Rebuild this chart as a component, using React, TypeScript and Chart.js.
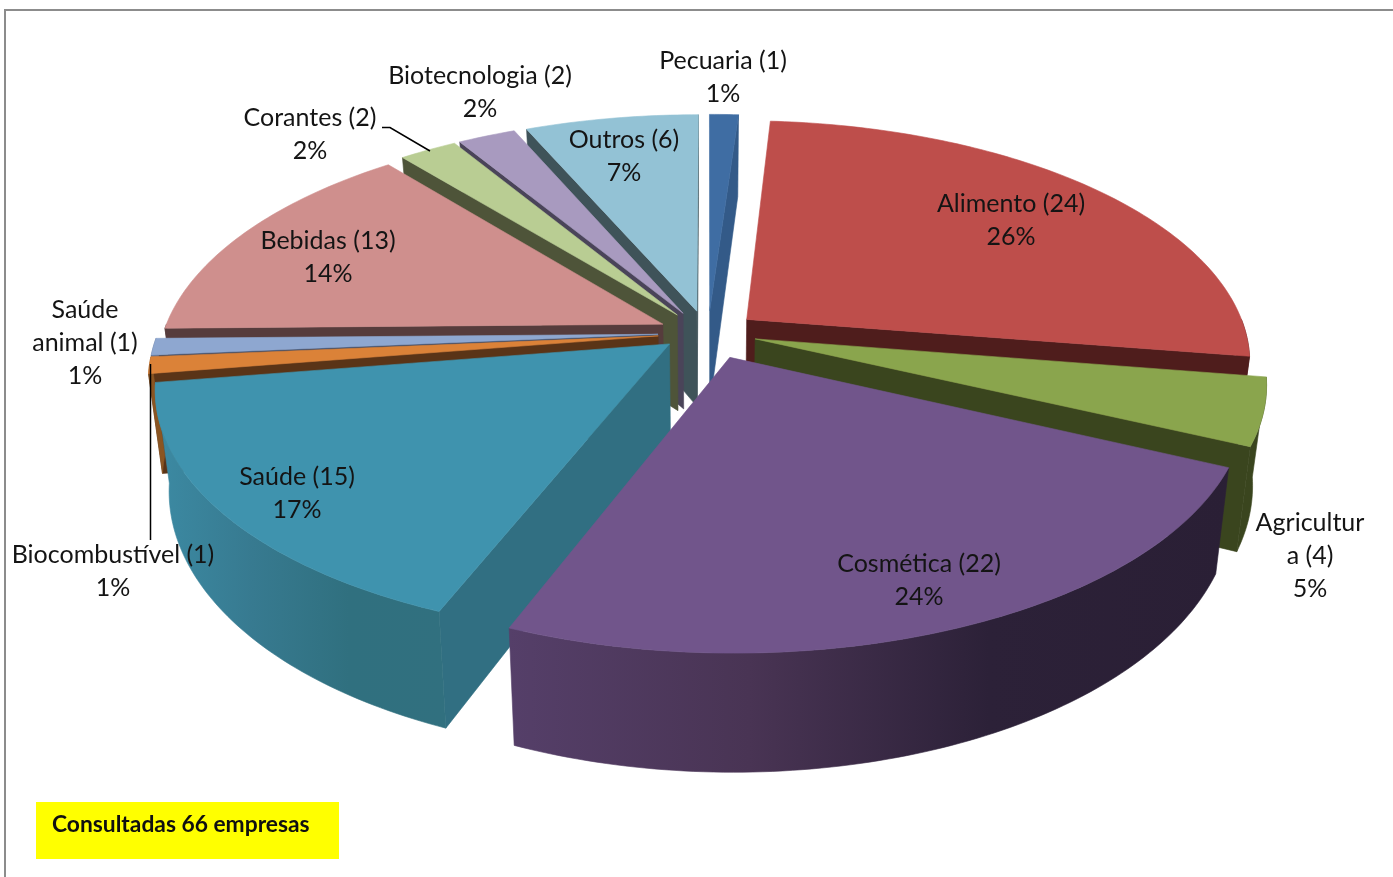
import React, { useEffect, useRef } from "react";
import { Chart, registerables } from "chart.js";

Chart.register(...registerables);

const categories = ["Pecuaria", "Alimento", "Agricultura", "Cosmética", "Saúde", "Biocombustível", "Saúde animal", "Bebidas", "Corantes", "Biotecnologia", "Outros"];
const counts = [1, 24, 4, 22, 15, 1, 1, 13, 2, 2, 6];
const percents = ["1%", "26%", "5%", "24%", "17%", "1%", "1%", "14%", "2%", "2%", "7%"];
const nameLines = [
  ["Pecuaria (1)"],
  ["Alimento (24)"],
  ["Agricultur", "a (4)"],
  ["Cosmética (22)"],
  ["Saúde (15)"],
  ["Biocombustível (1)"],
  ["Saúde", "animal (1)"],
  ["Bebidas (13)"],
  ["Corantes (2)"],
  ["Biotecnologia (2)"],
  ["Outros (6)"],
];
const topColors = ["#3f6da3", "#be4e4b", "#8aa54d", "#71558b", "#3f93ae", "#db8238", "#8ea7d0", "#cf8f8d", "#b9cd93", "#a89abf", "#93c2d5"];
const sideColors = ["#335a88", "#4f1d1c", "#3a451e", "#2f2440", "#316f82", "#5a3417", "#3f4c66", "#563c3c", "#4e5439", "#4a4459", "#3f5359"];
const wallStops = [
  ["#335a88", "#335a88"],
  ["#4f1d1c", "#4f1d1c"],
  ["#3a451e", "#3a451e"],
  ["#553f69", "#493454", "#2c2138", "#2a1f35"],
  ["#3c8aa3", "#377a90", "#30707f", "#31707f"],
  ["#8a5522", "#8a5522"],
  ["#5f7090", "#5f7090"],
  ["#563c3c", "#563c3c"],
  ["#4e5439", "#4e5439"],
  ["#4a4459", "#4a4459"],
  ["#3f5359", "#3f5359"],
];
// small per-slice screen nudges for the exploded slices
const sliceNudges = [
  [0, 0], [0, 0], [-1, -2], [3, 1], [1, -5], [0, -1], [0, -1], [0, 0], [-2, 0], [-2, 0], [-1, 0],
];
// label anchor: centre x, first-line mid y
const labelAnchors = [
  [723, 61], [1011, 204], [1310, 523], [919, 564], [297, 477], [113, 555], [85, 310], [328, 241], [310, 118], [480, 76], [624, 140],
];
const note = "Consultadas 66 empresas";

const CX = 708, CY = 334, RX = 500, RY = 237, PERSP = 0.17, DEPTH = 97, EXPLODE = 0.1, SHRINK = 0.975;
const FONT = '25px Lato, "Open Sans", sans-serif';

function project(px: number, py: number, low: boolean): [number, number] {
  const p = 1 / (1 + PERSP * py);
  let X = CX + RX * px * p;
  let Y = CY - RY * py * p;
  if (low) {
    X = CX + (X - CX) * SHRINK;
    Y += DEPTH * p;
  }
  return [X, Y];
}

function poly(ctx: CanvasRenderingContext2D, pts: [number, number][], fill: string | CanvasGradient) {
  ctx.beginPath();
  pts.forEach((q, i) => (i ? ctx.lineTo(q[0], q[1]) : ctx.moveTo(q[0], q[1])));
  ctx.closePath();
  ctx.fillStyle = fill;
  ctx.strokeStyle = fill;
  ctx.lineWidth = 0.6;
  ctx.fill();
  ctx.stroke();
}

const pie3d = {
  id: "pie3d",
  beforeDraw(chart: any) {
    const { ctx, width, height } = chart;
    ctx.save();
    ctx.fillStyle = "#ffffff";
    ctx.fillRect(0, 0, width, height);
    ctx.strokeStyle = "#8c8c8c";
    ctx.lineWidth = 2;
    ctx.beginPath();
    ctx.moveTo(5, height);
    ctx.lineTo(5, 10);
    ctx.lineTo(width, 10);
    ctx.stroke();
    ctx.restore();
  },
  beforeDatasetsDraw(chart: any) {
    const ctx: CanvasRenderingContext2D = chart.ctx;
    const arcs = chart.getDatasetMeta(0).data as any[];
    const order = arcs
      .map((a, i) => {
        const s = a.startAngle + Math.PI / 2;
        const e = a.endAngle + Math.PI / 2;
        return { i, s, e, m: (s + e) / 2 };
      })
      .sort((a, b) => Math.cos(b.m) - Math.cos(a.m));
    ctx.save();
    for (const { i, s, e, m } of order) {
      const ax = EXPLODE * Math.sin(m);
      const ay = EXPLODE * Math.cos(m);
      const [nx, ny] = sliceNudges[i];
      const P = (x: number, y: number, low: boolean): [number, number] => {
        const q = project(x, y, low);
        return [q[0] + nx, q[1] + ny];
      };
      const rim = (t: number): [number, number] => [ax + Math.sin(t), ay + Math.cos(t)];
      // radial faces that look at the viewer
      const face = (t: number) => {
        const [x, y] = rim(t);
        poly(ctx, [P(ax, ay, false), P(x, y, false), P(x, y, true), P(ax, ay, true)], sideColors[i]);
      };
      if (Math.sin(s) < 0) face(s);
      if (Math.sin(e) > 0) face(e);
      // outer wall, only where it faces front
      const from = Math.max(s, Math.PI / 2);
      const to = Math.min(e, (3 * Math.PI) / 2);
      if (to > from) {
        const up: [number, number][] = [];
        const dn: [number, number][] = [];
        const n = Math.max(4, Math.ceil((to - from) * 60));
        for (let k = 0; k <= n; k++) {
          const [x, y] = rim(from + ((to - from) * k) / n);
          up.push(P(x, y, false));
          dn.push(P(x, y, true));
        }
        const xs = up.concat(dn).map((q) => q[0]);
        const g = ctx.createLinearGradient(Math.min(...xs), 0, Math.max(...xs), 0);
        const stops = wallStops[i];
        stops.forEach((c, k) => g.addColorStop(k / (stops.length - 1), c));
        poly(ctx, up.concat(dn.reverse()), g);
      }
      // top face
      const top: [number, number][] = [P(ax, ay, false)];
      const n = Math.max(6, Math.ceil((e - s) * 60));
      for (let k = 0; k <= n; k++) {
        const [x, y] = rim(s + ((e - s) * k) / n);
        top.push(P(x, y, false));
      }
      poly(ctx, top, topColors[i]);
    }
    ctx.restore();
    return false;
  },
  afterDraw(chart: any) {
    const ctx: CanvasRenderingContext2D = chart.ctx;
    ctx.save();
    // leader lines
    ctx.strokeStyle = "#000000";
    ctx.lineWidth = 1.5;
    ctx.beginPath();
    ctx.moveTo(382, 127.5);
    ctx.lineTo(390, 127.5);
    ctx.lineTo(430, 151);
    ctx.moveTo(150.5, 364);
    ctx.lineTo(150.5, 540);
    ctx.stroke();
    // slice labels
    ctx.fillStyle = "#141414";
    ctx.font = FONT;
    ctx.textAlign = "center";
    ctx.textBaseline = "middle";
    categories.forEach((_, i) => {
      const [x, y] = labelAnchors[i];
      const lines = [...nameLines[i], percents[i]];
      lines.forEach((l, k) => ctx.fillText(l, x, y + k * 32.8));
    });
    // note box
    ctx.fillStyle = "#ffff00";
    ctx.fillRect(36, 802, 303, 57);
    ctx.fillStyle = "#101010";
    ctx.font = 'bold 22.8px Lato, "Open Sans", sans-serif';
    ctx.textAlign = "left";
    ctx.fillText(note, 52, 825);
    ctx.restore();
  },
};

export default function App() {
  const ref = useRef<HTMLCanvasElement>(null);
  useEffect(() => {
    if (!ref.current) return;
    const chart = new Chart(ref.current, {
      type: "pie",
      data: {
        labels: categories,
        datasets: [{ data: counts, backgroundColor: topColors, borderWidth: 0 }],
      },
      options: {
        responsive: false,
        animation: false,
        plugins: { legend: { display: false }, tooltip: { enabled: false } },
      },
      plugins: [pie3d],
    } as any);
    return () => chart.destroy();
  }, []);
  return (
    <canvas
      ref={ref}
      width={1393}
      height={877}
      style={{ position: "fixed", left: 0, top: 0, width: 1393, height: 877, display: "block" }}
    />
  );
}
